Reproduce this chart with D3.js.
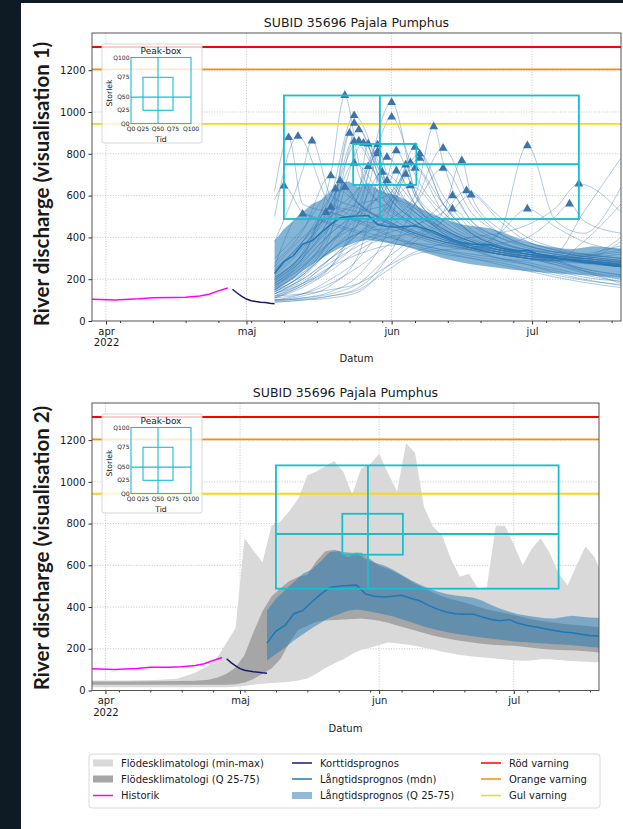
<!DOCTYPE html>
<html>
<head>
<meta charset="utf-8">
<script src="https://cdn.jsdelivr.net/npm/d3@7"></script>
<style>
  body { margin: 0; background: #0e1b24; }
  svg text { font-family: "DejaVu Sans", sans-serif; fill: #1a1a1a; }
</style>
</head>
<body>
<svg id="chart" width="623" height="829"></svg>
<script>
const parseDay = d3.timeParse("%Y-%m-%d");
const parseHour = d3.timeParse("%Y-%m-%d %H:%M");

// ---- data ----
const chartTitle = "SUBID 35696 Pajala Pumphus";
const yTicks = [0, 200, 400, 600, 800, 1000, 1200];
const monthTicks = ["2022-04-01", "2022-05-01", "2022-06-01", "2022-07-01"];
const monthLabels = ["apr", "maj", "jun", "jul"];
const yearLabel = "2022";

const thresholdValues = [1311, 1204, 943];   // röd, orange, gul

const historikDates = ["2022-03-29", "2022-04-03", "2022-04-08", "2022-04-11", "2022-04-15", "2022-04-18",
  "2022-04-21", "2022-04-23", "2022-04-25", "2022-04-27"];
const historikValues = [104, 101, 106, 111, 112, 114, 120, 128, 144, 158];

const kortDates = ["2022-04-28", "2022-04-29", "2022-04-30", "2022-05-01", "2022-05-02", "2022-05-03",
  "2022-05-04", "2022-05-05", "2022-05-06", "2022-05-07"];
const kortValues = [152, 134, 118, 105, 97, 93, 90, 88, 85, 83];

const climDates = ["2022-03-29", "2022-04-05", "2022-04-12", "2022-04-17", "2022-04-21", "2022-04-24",
  "2022-04-26", "2022-04-28", "2022-04-30", "2022-05-02", "2022-05-04", "2022-05-06", "2022-05-08",
  "2022-05-10", "2022-05-12", "2022-05-14", "2022-05-16", "2022-05-18", "2022-05-20", "2022-05-22",
  "2022-05-24", "2022-05-26", "2022-05-28", "2022-05-30", "2022-06-01", "2022-06-03", "2022-06-05",
  "2022-06-07", "2022-06-09", "2022-06-11", "2022-06-13", "2022-06-15", "2022-06-17", "2022-06-19",
  "2022-06-21", "2022-06-23", "2022-06-25", "2022-06-27", "2022-06-29", "2022-07-01", "2022-07-03",
  "2022-07-05", "2022-07-07", "2022-07-09", "2022-07-11", "2022-07-13", "2022-07-15", "2022-07-17",
  "2022-07-19", "2022-07-20"];
const climMax = [48, 48, 50, 56, 85, 120, 160, 230, 300, 730, 670, 615, 790, 810, 860, 920, 1030, 1050,
  1075, 1100, 1050, 940, 1065, 1085, 1135, 1040, 955, 1185, 1140, 880, 785, 745, 630, 545, 560, 490,
  495, 790, 790, 700, 600, 680, 730, 660, 560, 505, 600, 690, 640, 590];
const climMin = [16, 16, 16, 16, 16, 16, 16, 16, 18, 22, 28, 32, 36, 38, 42, 48, 58, 80, 108, 130, 150,
  175, 195, 205, 218, 230, 226, 220, 214, 205, 196, 186, 178, 170, 165, 160, 157, 152, 148, 145, 143,
  144, 150, 150, 146, 142, 140, 138, 136, 136];
const climQ25 = [27, 27, 27, 27, 27, 27, 27, 28, 30, 38, 55, 80, 105, 150, 230, 290, 310, 330, 335, 338,
  340, 343, 345, 340, 334, 325, 312, 300, 288, 276, 264, 254, 246, 238, 232, 226, 222, 218, 216, 214,
  210, 205, 200, 196, 194, 193, 192, 188, 184, 182];
const climQ75 = [43, 43, 44, 45, 47, 52, 62, 80, 110, 170, 280, 380, 450, 490, 525, 545, 555, 620, 668,
  675, 664, 660, 662, 630, 598, 582, 562, 538, 512, 490, 470, 452, 438, 428, 416, 402, 390, 380, 372,
  362, 352, 342, 334, 328, 322, 318, 314, 310, 306, 304];

const langDates = ["2022-05-07", "2022-05-09", "2022-05-11", "2022-05-13", "2022-05-15", "2022-05-17",
  "2022-05-19", "2022-05-21", "2022-05-23", "2022-05-25", "2022-05-27", "2022-05-29", "2022-05-31",
  "2022-06-02", "2022-06-04", "2022-06-06", "2022-06-08", "2022-06-10", "2022-06-12", "2022-06-14",
  "2022-06-16", "2022-06-18", "2022-06-20", "2022-06-22", "2022-06-24", "2022-06-26", "2022-06-28",
  "2022-06-30", "2022-07-02", "2022-07-04", "2022-07-06", "2022-07-08", "2022-07-10", "2022-07-12",
  "2022-07-14", "2022-07-16", "2022-07-18", "2022-07-20"];
const langMedian = [227, 285, 312, 368, 384, 424, 462, 494, 500, 503, 505, 462, 452, 448, 452, 456, 442,
  430, 408, 390, 376, 368, 366, 366, 352, 340, 334, 340, 322, 312, 304, 296, 288, 280, 277, 270, 264, 261];
const langQ75 = [384, 440, 480, 520, 560, 580, 620, 664, 668, 640, 660, 630, 612, 600, 580, 555, 530,
  508, 490, 475, 462, 455, 450, 444, 430, 410, 392, 378, 366, 358, 352, 346, 345, 352, 358, 354, 350, 347];
const langQ25 = [144, 175, 205, 240, 270, 298, 325, 350, 365, 382, 388, 382, 374, 366, 356, 342, 328,
  314, 300, 290, 280, 272, 266, 260, 254, 248, 243, 238, 234, 231, 228, 225, 222, 220, 217, 213, 209, 206];

// ensemble members: values at the knot dates (null = replaced by the member's peak)
const ensembleDates = ["2022-05-07", "2022-05-13", "2022-05-19", "2022-05-25", "2022-05-31", "2022-06-06",
  "2022-06-12", "2022-06-18", "2022-06-24", "2022-06-30", "2022-07-06", "2022-07-12", "2022-07-20"];
const ensembleMembers = [
  [200, 330, 700, 760, 520, 430, 380, 340, 300, 290, 320, 520, 780],
  [150, 220, 380, 560, null, 620, 450, 380, 340, 310, 290, 380, 560],
  [250, 380, 600, null, 640, 480, 400, 360, 330, 300, 280, 240, 200],
  [120, 180, 260, 480, null, 700, 520, 430, 380, 340, 330, 320, 300],
  [180, 300, 520, null, 620, 540, 420, 350, 300, 280, 250, 220, 190],
  [140, 220, 340, 420, 480, 600, 760, 480, 400, 360, 330, 310, 290],
  [220, 350, 560, null, 580, 460, 400, 350, 320, 310, 300, 290, 270],
  [620, 560, 520, 480, 460, 420, 380, 350, 330, 310, 300, 310, 330],
  [500, null, 560, 520, 470, 430, 390, 360, 340, 320, 300, 290, 275],
  [380, 720, 600, 540, 480, 420, 380, 350, 330, 310, 300, 290, 270],
  [160, 250, 480, 700, 540, 450, 390, 350, 320, 300, 290, 310, 340],
  [140, 230, 420, null, 600, 480, 400, 350, 320, 300, 270, 240, 210],
  [210, 320, 560, null, 560, 460, 390, 360, 340, 320, 310, 300, 280],
  [170, 260, 430, null, 640, 500, 420, 370, 330, 310, 300, 290, 270],
  [130, 210, 360, 620, 660, 520, 430, 380, 340, 320, 290, 250, 220],
  [190, 300, 450, 600, 700, 540, 440, 380, 350, 330, 310, 300, 285],
  [110, 170, 260, 520, 640, 520, 430, 370, 340, 320, 300, 290, 270],
  [240, 380, 520, 640, 620, 480, 400, 360, 330, 310, 300, 280, 265],
  [100, 120, 170, 320, null, 560, 420, 360, 330, 310, 290, 240, 180],
  [150, 240, 380, 500, 680, 600, 460, 390, 350, 330, 310, 300, 280],
  [95, 110, 140, 220, 420, null, 560, 420, 360, 330, 310, 320, 360],
  [160, 280, 420, 520, 560, null, 600, 440, 380, 340, 320, 300, 280],
  [120, 180, 300, 420, 520, null, 560, 420, 360, 320, 300, 285, 265],
  [90, 100, 120, 160, 300, 560, null, 560, 420, 360, 330, 310, 290],
  [140, 220, 340, 420, 440, 400, 360, 340, 420, null, 480, 420, 640],
  [110, 160, 240, 340, 400, 420, 520, 600, 440, 380, 340, 320, 300],
  [230, 360, 520, null, 560, 460, 400, 350, 320, 300, 280, 250, 220],
  [200, 310, 460, 640, 600, 480, 400, 350, 320, 300, 290, 280, 260],
  [140, 200, 300, 420, 560, 620, 480, 400, 350, 320, 300, 290, 270],
  [100, 130, 200, 300, 500, null, 560, 420, 360, 330, 310, 290, 275],
  [260, 400, 500, 560, 600, null, 520, 420, 370, 340, 320, 300, 285],
  [130, 200, 300, 380, 440, 560, null, 520, 420, 360, 330, 310, 290],
  [170, 260, 380, 520, null, 560, 440, 380, 340, 320, 300, 290, 270],
  [190, 290, 420, 520, 640, 560, 440, 380, 340, 320, 300, 285, 270],
  [115, 170, 260, 380, 540, 600, 460, 390, 350, 320, 300, 285, 265],
  [280, 430, null, 560, 480, 420, 380, 350, 320, 300, 290, 300, 320],
  [240, 380, 600, 560, 470, 410, 370, 340, 320, 300, 270, 230, 200],
  [150, 230, 340, 470, null, 520, 440, 380, 340, 310, 295, 285, 265],
  [180, 270, 380, 460, 540, null, 500, 410, 360, 330, 310, 295, 280],
  [580, 520, 470, 430, 400, 370, 340, 320, 300, 270, 230, 200, 170],
  [120, 130, 150, 180, 260, 330, 370, 400, 420, 460, 540, null, 520],
  [300, 440, null, 560, 470, 410, 370, 340, 320, 300, 285, 275, 260],
  [200, 320, 500, 560, 480, 420, 380, 350, 320, 300, 290, 280, 265],
  [110, 130, 180, 260, 360, 450, 560, 480, 400, 350, 320, 300, 380],
  [130, 190, 280, 360, 420, 460, 520, null, 500, 400, 350, 320, 300],
  [100, 110, 130, 180, 300, 400, 480, null, 480, 380, 340, 310, 400],
  [90, 100, 110, 140, 260, 380, 480, 460, 380, 330, 300, 280, 265],
  [130, 180, 260, 320, 360, 370, 360, 350, 420, null, 450, 380, 340],
  [100, 105, 120, 150, 240, 320, 340, 350, 370, 400, 500, 480, 420],
  [210, 320, null, 480, 420, 370, 340, 310, 290, 270, 240, 210, 190],
  [180, 300, null, 470, 410, 360, 330, 300, 280, 250, 220, 195, 175],
  [260, null, 460, 420, 380, 350, 320, 300, 270, 240, 210, 185, 160]
];
const peakDates = ["2022-05-22", "2022-06-01", "2022-05-24", "2022-06-01", "2022-05-24", "2022-06-10",
  "2022-05-25", "2022-05-10", "2022-05-12", "2022-05-15", "2022-05-23", "2022-05-24", "2022-05-25",
  "2022-05-26", "2022-05-27", "2022-05-29", "2022-05-29", "2022-05-29", "2022-05-31", "2022-06-02",
  "2022-06-06", "2022-06-07", "2022-06-07", "2022-06-12", "2022-06-30", "2022-06-16", "2022-05-24",
  "2022-05-27", "2022-06-04", "2022-06-05", "2022-06-06", "2022-06-12", "2022-05-30", "2022-06-02",
  "2022-06-04", "2022-05-19", "2022-05-21", "2022-05-31", "2022-06-05", "2022-05-09", "2022-07-11",
  "2022-05-20", "2022-05-22", "2022-06-14", "2022-06-17", "2022-06-18", "2022-06-14", "2022-06-30",
  "2022-07-09", "2022-05-19", "2022-05-18", "2022-05-13"];
const peakValues = [1079, 1046, 983, 976, 947, 930, 915, 878, 884, 862, 899, 859, 862, 851, 847, 843,
  811, 800, 784, 815, 832, 800, 779, 827, 839, 767, 755, 739, 747, 758, 731, 731, 712, 718, 702, 695,
  671, 671, 647, 646, 656, 632, 640, 600, 624, 603, 536, 536, 560, 544, 520, 512];

// peak-box quantiles (Q0, Q25, Q50, Q75, Q100)
const peakBoxTime = ["2022-05-09 00:00", "2022-05-23 19:00", "2022-05-29 12:00", "2022-06-06 07:00", "2022-07-11 00:00"];
const peakBoxSize = [488, 651, 750, 847, 1079];

// schematic of the small "Peak-box" key
const insetLabels = ["Q0", "Q25", "Q50", "Q75", "Q100"];
const insetTimePos = [0, 20, 45, 70, 100];
const insetSizePos = [0, 20, 40, 70, 100];

const legendLabels = ["Flödesklimatologi (min-max)", "Flödesklimatologi (Q 25-75)", "Historik",
  "Korttidsprognos", "Långtidsprognos (mdn)", "Långtidsprognos (Q 25-75)",
  "Röd varning", "Orange varning", "Gul varning"];

// ---- drawing ----
const W = 623, H = 829;
const svg = d3.select("#chart");
svg.append("rect").attr("width", W).attr("height", H).attr("fill", "#0e1b24");
svg.append("rect").attr("x", 21).attr("y", 3).attr("width", W - 21).attr("height", H - 3).attr("fill", "#fff");

const xDomain = [parseDay("2022-03-29"), parseDay("2022-07-20")];
const yMax = 1378;
const thresholdColors = ["#ff0000", "#ff8c00", "#ffd700"];
const blue = "#1f77b4";
const cyan = "#17becf";

const panels = [
  { left: 92, right: 621, top: 33, bottom: 321, labelY: 184, label: "River discharge (visualisation 1)", mode: "ensemble" },
  { left: 92, right: 599, top: 403, bottom: 690.5, labelY: 548, label: "River discharge (visualisation 2)", mode: "climate" }
];

const toPts = (dates, vals, parser) => dates.map((d, i) => ({ date: (parser || parseDay)(d), value: vals[i] }));

panels.forEach((p, idx) => {
  const g = svg.append("g");
  const x = d3.scaleTime().domain(xDomain).range([p.left, p.right]);
  const y = d3.scaleLinear().domain([0, yMax]).range([p.bottom, p.top]);

  const clipId = "clip" + idx;
  g.append("clipPath").attr("id", clipId).append("rect")
    .attr("x", p.left).attr("y", p.top).attr("width", p.right - p.left).attr("height", p.bottom - p.top);
  const plot = g.append("g").attr("clip-path", `url(#${clipId})`);

  // dotted grid
  plot.selectAll(".gy").data(yTicks.filter(v => v > 0)).enter().append("line")
    .attr("x1", p.left).attr("x2", p.right).attr("y1", d => y(d)).attr("y2", d => y(d))
    .attr("stroke", "#b5b5b5").attr("stroke-width", 0.8).attr("stroke-dasharray", "1,1.6");
  plot.selectAll(".gx").data(monthTicks.map(parseDay)).enter().append("line")
    .attr("x1", d => x(d)).attr("x2", d => x(d)).attr("y1", p.top).attr("y2", p.bottom)
    .attr("stroke", "#b5b5b5").attr("stroke-width", 0.8).attr("stroke-dasharray", "1,1.6");

  const line = d3.line().x(d => x(d.date)).y(d => y(d.value));
  const langPts = langDates.map((d, i) => ({ date: parseDay(d), lo: langQ25[i], hi: langQ75[i], mid: langMedian[i] }));
  const band = d3.area().x(d => x(d.date)).y0(d => y(d.lo)).y1(d => y(d.hi));

  if (p.mode === "climate") {
    const climPts = climDates.map((d, i) => ({ date: parseDay(d), min: climMin[i], max: climMax[i], q25: climQ25[i], q75: climQ75[i] }));
    plot.append("path").datum(climPts).attr("fill", "#d9d9d9")
      .attr("d", d3.area().x(d => x(d.date)).y0(d => y(d.min)).y1(d => y(d.max)));
    plot.append("path").datum(climPts).attr("fill", "#a6a6a6")
      .attr("d", d3.area().x(d => x(d.date)).y0(d => y(d.q25)).y1(d => y(d.q75)));
    plot.append("path").datum(langPts).attr("fill", blue).attr("fill-opacity", 0.5).attr("d", band);
  } else {
    const ensDates = ensembleDates.map(parseDay);
    const memberLine = d3.line().x(d => x(d.date)).y(d => y(d.value)).curve(d3.curveMonotoneX);
    plot.append("path").datum(langPts).attr("fill", blue).attr("fill-opacity", 0.55).attr("d", band);
    ensembleMembers.forEach((vals, i) => {
      const pts = ensDates.map((d, k) => ({ date: d, value: vals[k] })).filter(q => q.value !== null);
      pts.push({ date: parseDay(peakDates[i]), value: peakValues[i] });
      pts.sort((a, b) => a.date - b.date);
      plot.append("path").datum(pts).attr("fill", "none")
        .attr("stroke", "#2f74ad").attr("stroke-opacity", 0.38).attr("stroke-width", 1)
        .attr("d", memberLine);
    });
  }

  plot.append("path").datum(langPts).attr("fill", "none").attr("stroke", blue).attr("stroke-width", 1.5)
    .attr("d", d3.line().x(d => x(d.date)).y(d => y(d.mid)));

  // warning levels
  plot.selectAll(".thr").data(thresholdValues).enter().append("line")
    .attr("x1", p.left).attr("x2", p.right).attr("y1", d => y(d)).attr("y2", d => y(d))
    .attr("stroke", (d, i) => thresholdColors[i]).attr("stroke-width", 1.8);

  plot.append("path").datum(toPts(historikDates, historikValues)).attr("fill", "none")
    .attr("stroke", "#ff00ff").attr("stroke-width", 1.5).attr("d", line);
  plot.append("path").datum(toPts(kortDates, kortValues)).attr("fill", "none")
    .attr("stroke", "#191970").attr("stroke-width", 1.5).attr("d", line);

  if (p.mode === "ensemble") {
    plot.selectAll(".peak").data(peakDates).enter().append("path")
      .attr("transform", (d, i) => `translate(${x(parseDay(d))},${y(peakValues[i])})`)
      .attr("d", d3.symbol().type(d3.symbolTriangle).size(34))
      .attr("fill", "#3a75ae");
  }

  // peak box
  const bt = peakBoxTime.map(parseHour);
  const pb = plot.append("g").attr("fill", "none").attr("stroke", cyan).attr("stroke-width", 1.8);
  pb.append("rect").attr("x", x(bt[0])).attr("y", y(peakBoxSize[4]))
    .attr("width", x(bt[4]) - x(bt[0])).attr("height", y(peakBoxSize[0]) - y(peakBoxSize[4]));
  pb.append("rect").attr("x", x(bt[1])).attr("y", y(peakBoxSize[3]))
    .attr("width", x(bt[3]) - x(bt[1])).attr("height", y(peakBoxSize[1]) - y(peakBoxSize[3]));
  pb.append("line").attr("x1", x(bt[2])).attr("x2", x(bt[2])).attr("y1", y(peakBoxSize[0])).attr("y2", y(peakBoxSize[4]));
  pb.append("line").attr("x1", x(bt[0])).attr("x2", x(bt[4])).attr("y1", y(peakBoxSize[2])).attr("y2", y(peakBoxSize[2]));

  // axes
  const xAxis = g.append("g").attr("transform", `translate(0,${p.bottom})`)
    .call(d3.axisBottom(x).tickValues(monthTicks.map(parseDay)).tickSize(3.5).tickPadding(3)
      .tickFormat((d, i) => monthLabels[i]));
  xAxis.select(".domain").remove();
  xAxis.select(".tick text").append("tspan").attr("x", 0).attr("dy", "1.15em").text(yearLabel);
  const minor = g.append("g").attr("transform", `translate(0,${p.bottom})`)
    .call(d3.axisBottom(x).ticks(d3.timeMonday).tickSize(2).tickFormat(""));
  minor.select(".domain").remove();

  const yAxis = g.append("g").attr("transform", `translate(${p.left},0)`)
    .call(d3.axisLeft(y).tickValues(yTicks).tickSize(3.5).tickPadding(3).tickFormat(d3.format("d")));
  yAxis.select(".domain").remove();

  g.selectAll(".tick line").attr("stroke", "#333");
  g.selectAll(".tick text").attr("font-family", "DejaVu Sans").style("font-size", "10px").attr("fill", "#222");

  g.append("rect").attr("x", p.left).attr("y", p.top).attr("width", p.right - p.left).attr("height", p.bottom - p.top)
    .attr("fill", "none").attr("stroke", "#444").attr("stroke-width", 0.9);

  g.append("text").attr("x", (p.left + p.right) / 2).attr("y", p.top - 6).attr("text-anchor", "middle")
    .style("font-size", "12.5px").text(chartTitle);
  g.append("text").attr("x", (p.left + p.right) / 2).attr("y", p.bottom + 41).attr("text-anchor", "middle")
    .style("font-size", "10px").text("Datum");
  g.append("text").attr("transform", `translate(49,${p.labelY}) rotate(-90)`).attr("text-anchor", "middle")
    .style("font-family", "Lato, 'Open Sans', sans-serif").style("font-weight", "bold").style("font-size", "20.5px")
    .attr("fill", "#000").text(p.label);

  // Peak-box key
  const fx = p.left + 10, fy = p.top + 11;
  const gi = g.append("g");
  gi.append("rect").attr("x", fx).attr("y", fy).attr("width", 100).attr("height", 99).attr("rx", 2)
    .attr("fill", "#fff").attr("fill-opacity", 0.8).attr("stroke", "#cccccc").attr("stroke-width", 0.8);
  gi.append("text").attr("x", fx + 59).attr("y", fy + 10).attr("text-anchor", "middle")
    .style("font-size", "9px").text("Peak-box");
  const ix = d3.scaleLinear().domain([0, 100]).range([p.left + 39, p.left + 99]);
  const iy = d3.scaleLinear().domain([0, 100]).range([p.top + 90.5, p.top + 24.5]);
  const ib = gi.append("g").attr("fill", "none").attr("stroke", cyan).attr("stroke-width", 1.1);
  ib.append("rect").attr("x", ix(0)).attr("y", iy(100)).attr("width", ix(100) - ix(0)).attr("height", iy(0) - iy(100));
  ib.append("rect").attr("x", ix(insetTimePos[1])).attr("y", iy(insetSizePos[3]))
    .attr("width", ix(insetTimePos[3]) - ix(insetTimePos[1])).attr("height", iy(insetSizePos[1]) - iy(insetSizePos[3]));
  ib.append("line").attr("x1", ix(insetTimePos[2])).attr("x2", ix(insetTimePos[2])).attr("y1", iy(0)).attr("y2", iy(100));
  ib.append("line").attr("x1", ix(0)).attr("x2", ix(100)).attr("y1", iy(insetSizePos[2])).attr("y2", iy(insetSizePos[2]));
  gi.selectAll(".ixl").data(insetTimePos).enter().append("text")
    .attr("x", d => ix(d)).attr("y", p.top + 98).attr("text-anchor", "middle")
    .style("font-size", "6px").text((d, i) => insetLabels[i]);
  gi.selectAll(".iyl").data(insetSizePos).enter().append("text")
    .attr("x", ix(0) - 1.5).attr("y", d => iy(d)).attr("dy", "0.35em").attr("text-anchor", "end")
    .style("font-size", "6px").text((d, i) => insetLabels[i]);
  gi.append("text").attr("transform", `translate(${p.left + 20},${p.top + 60}) rotate(-90)`).attr("text-anchor", "middle")
    .style("font-size", "7.7px").text("Storlek");
  gi.append("text").attr("x", ix(50)).attr("y", p.top + 108.5).attr("text-anchor", "middle")
    .style("font-size", "7.7px").text("Tid");
});

// legend
const lg = svg.append("g");
lg.append("rect").attr("x", 89).attr("y", 754).attr("width", 511).attr("height", 54).attr("rx", 3)
  .attr("fill", "#fff").attr("stroke", "#d0d0d0").attr("stroke-width", 0.8);
const legendStyle = [
  { kind: "patch", color: "#d9d9d9" }, { kind: "patch", color: "#a6a6a6" }, { kind: "line", color: "#ff00ff" },
  { kind: "line", color: "#191970" }, { kind: "line", color: blue }, { kind: "patch", color: "#8fbbd9" },
  { kind: "line", color: thresholdColors[0] }, { kind: "line", color: thresholdColors[1] }, { kind: "line", color: thresholdColors[2] }
];
const legendCols = [93, 292, 481];
const legendRows = [763, 779, 795.5];
legendLabels.forEach((label, i) => {
  const cx = legendCols[Math.floor(i / 3)], cy = legendRows[i % 3];
  const st = legendStyle[i];
  if (st.kind === "patch") {
    lg.append("rect").attr("x", cx).attr("y", cy - 3.5).attr("width", 20).attr("height", 7).attr("fill", st.color);
  } else {
    lg.append("line").attr("x1", cx).attr("x2", cx + 20).attr("y1", cy).attr("y2", cy)
      .attr("stroke", st.color).attr("stroke-width", 1.5);
  }
  lg.append("text").attr("x", cx + 28).attr("y", cy).attr("dy", "0.35em").style("font-size", "10px").text(label);
});
</script>
</body>
</html>
